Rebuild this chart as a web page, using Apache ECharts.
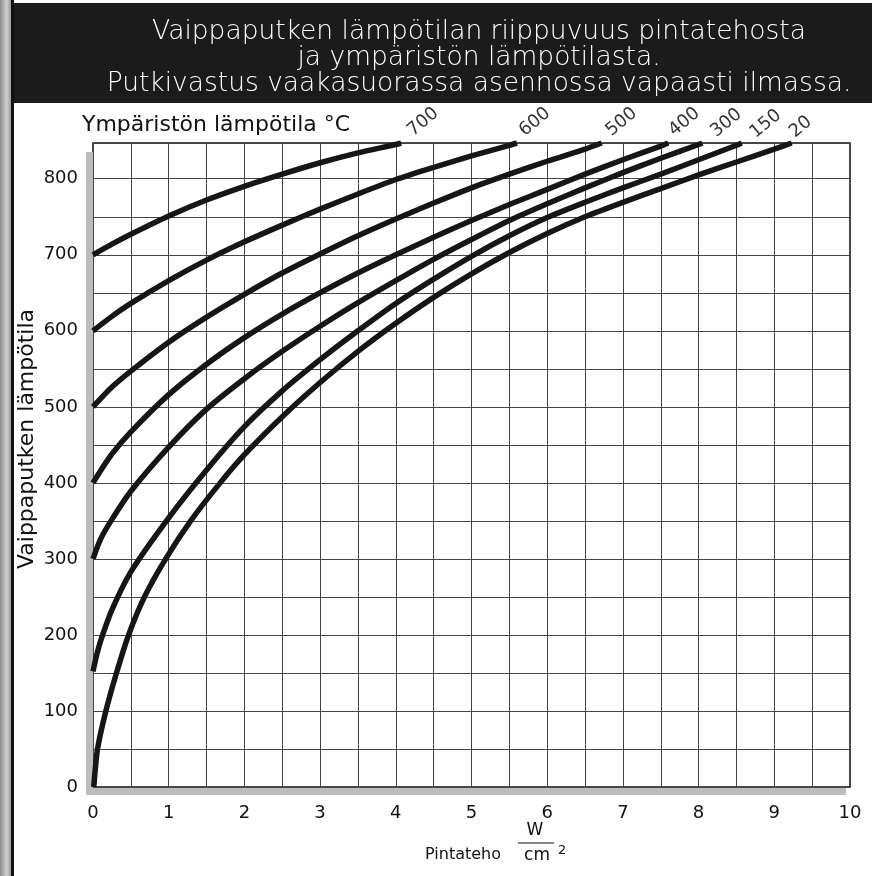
<!DOCTYPE html>
<html>
<head>
<meta charset="utf-8">
<script src="https://cdn.jsdelivr.net/npm/echarts@6/dist/echarts.min.js"></script>
<style>
  html, body { margin: 0; padding: 0; background: #fff; }
  #chart { width: 872px; height: 876px; }
</style>
</head>
<body>
<div id="chart"></div>
<script>
// ympäristön lämpötila (curve names)
var ambient = ['700', '600', '500', '400', '300', '150', '20'];

// x = pintateho W/cm2, y = vaippaputken lämpötila
var q700 = [0, 0.25, 0.5, 1, 1.5, 2, 2.5, 3, 3.5, 4, 4.07];
var t700 = [700, 714, 727, 751, 772, 790, 806, 821, 834, 845, 847];

var q600 = [0, 0.25, 0.5, 1, 1.5, 2, 2.5, 3, 3.5, 4, 4.5, 5, 5.5, 5.6];
var t600 = [600, 619, 636, 666, 693, 717, 739, 760, 780, 799, 815, 830, 844, 847];

var q500 = [0, 0.25, 0.5, 1, 1.5, 2, 2.5, 3, 3.5, 4, 4.5, 5, 5.5, 6, 6.5, 6.72];
var t500 = [500, 526, 547, 585, 618, 648, 676, 701, 725, 747, 768, 788, 806, 823, 839, 847];

var q400 = [0, 0.1, 0.25, 0.5, 1, 1.5, 2, 2.5, 3, 3.5, 4, 4.5, 5, 5.5, 6, 6.5, 7, 7.5, 7.6];
var t400 = [400, 416, 438, 467, 516, 556, 591, 622, 650, 676, 700, 723, 745, 766, 786, 806, 825, 843, 847];

var q300 = [0, 0.1, 0.25, 0.5, 1, 1.5, 2, 2.5, 3, 3.5, 4, 4.5, 5, 5.5, 6, 6.5, 7, 7.5, 8, 8.05];
var t300 = [300, 326, 352, 389, 447, 497, 537, 573, 606, 637, 666, 694, 720, 745, 767, 788, 808, 827, 845, 847];

var q150 = [0, 0.05, 0.1, 0.25, 0.5, 1, 1.5, 2, 2.5, 3, 3.5, 4, 4.5, 5, 5.5, 6, 6.5, 7, 7.5, 8, 8.5, 8.57];
var t150 = [152, 174, 192, 233, 283, 354, 417, 474, 521, 562, 600, 636, 668, 698, 725, 749, 769, 788, 806, 825, 844, 847];

var q20 = [0.01, 0.06, 0.17, 0.31, 0.47, 0.68, 0.96, 1.29, 1.68, 2, 2.5, 3, 3.5, 4, 4.5, 5, 5.5, 6, 6.5, 7, 7.5, 8, 8.5, 9, 9.23];
var t20 = [0, 50, 100, 150, 200, 250, 300, 350, 400, 437, 487, 532, 573, 610, 644, 675, 703, 728, 750, 769, 787, 805, 822, 839, 847];

var xTicks = [0, 1, 2, 3, 4, 5, 6, 7, 8, 9, 10];
var yTicks = [0, 100, 200, 300, 400, 500, 600, 700, 800];

var curvesQ = [q700, q600, q500, q400, q300, q150, q20];
var curvesT = [t700, t600, t500, t400, t300, t150, t20];

// screen offset of each rotated curve label from the curve's end
var labelOffsets = [[22, -21], [18, -21], [20, -21], [16, -21], [24, -20], [24, -19], [9, -16]];
var labelAngle = 40;

var font = 'DejaVu Sans';
var chart = echarts.init(document.getElementById('chart'), null, {renderer: 'canvas'});

var series = [];
for (var i = 0; i < ambient.length; i++) {
    var qs = curvesQ[i], ts = curvesT[i];
    series.push({
        name: ambient[i],
        type: 'line',
        data: qs.map(function (q, k) { return [q, ts[k]]; }),
        showSymbol: false,
        symbol: 'none',
        smooth: 0.25,
        lineStyle: {color: '#161616', width: 5.5, cap: 'butt', join: 'round'},
        z: 3
    });
}

// label offset is applied in the rotated frame, so turn it back
var a = labelAngle * Math.PI / 180;
function unrotate(d) {
    return [d[0] * Math.cos(a) - d[1] * Math.sin(a), d[0] * Math.sin(a) + d[1] * Math.cos(a)];
}

series.push({
    type: 'scatter',
    symbolSize: 1,
    itemStyle: {color: 'rgba(0,0,0,0)'},
    clip: false,
    z: 4,
    data: ambient.map(function (name, i) {
        var qs = curvesQ[i], ts = curvesT[i];
        return {
            value: [qs[qs.length - 1], ts[ts.length - 1]],
            label: {
                show: true,
                formatter: name,
                position: 'inside',
                rotate: labelAngle,
                offset: unrotate(labelOffsets[i]),
                fontSize: 18,
                fontFamily: font,
                color: '#000'
            }
        };
    })
});

var option = {
    animation: false,
    backgroundColor: '#fff',
    title: {
        text: 'Vaippaputken lämpötilan riippuvuus pintatehosta\nja ympäristön lämpötilasta.\nPutkivastus vaakasuorassa asennossa vapaasti ilmassa.',
        left: 474,
        top: 14,
        textAlign: 'center',
        z: 10,
        textStyle: {
            color: '#fff',
            fontSize: 26.5,
            fontWeight: 200,
            fontFamily: font,
            lineHeight: 26
        }
    },
    grid: {
        left: 93,
        right: 22,
        top: 143,
        bottom: 89,
        show: true,
        borderColor: '#111',
        borderWidth: 1.5,
        backgroundColor: 'transparent'
    },
    xAxis: {
        type: 'value',
        min: 0,
        max: 10,
        interval: 0.5,
        axisLine: {show: false},
        axisTick: {show: false},
        splitLine: {show: true, lineStyle: {color: '#444', width: 1}},
        axisLabel: {
            interval: 0,
            margin: 17,
            fontSize: 18,
            fontFamily: font,
            color: '#111',
            formatter: function (v) { return xTicks.indexOf(v) >= 0 ? String(v) : ''; }
        }
    },
    yAxis: {
        type: 'value',
        min: 0,
        max: 847,
        interval: 50,
        axisLine: {show: false},
        axisTick: {show: false},
        splitLine: {show: true, lineStyle: {color: '#444', width: 1}},
        axisLabel: {
            interval: 0,
            margin: 15,
            fontSize: 18,
            fontFamily: font,
            color: '#111',
            formatter: function (v) { return yTicks.indexOf(v) >= 0 ? String(v) : ''; }
        }
    },
    graphic: [
        // black title band
        {type: 'rect', z: 0, shape: {x: 0, y: 3, width: 872, height: 100}, style: {fill: '#1b1b1b'}},
        // left page edge
        {type: 'rect', z: 1, shape: {x: 0, y: 0, width: 11, height: 876},
            style: {fill: new echarts.graphic.LinearGradient(0, 0, 1, 0, [
                {offset: 0, color: '#8a8a8a'}, {offset: 0.6, color: '#d0d0d0'}, {offset: 1, color: '#9a9a9a'}])}},
        {type: 'rect', z: 1, shape: {x: 11, y: 0, width: 3, height: 876}, style: {fill: '#111'}},
        // shaded edges of the plot
        {type: 'rect', z: 1, shape: {x: 86, y: 152, width: 7, height: 643}, style: {fill: '#bcbcbc'}},
        {type: 'rect', z: 1, shape: {x: 86, y: 788, width: 760, height: 7}, style: {fill: '#bcbcbc'}},
        // curve legend title
        {type: 'text', z: 5, x: 82, y: 125,
            style: {text: 'Ympäristön lämpötila °C', fontSize: 22, fontFamily: font, fill: '#111', verticalAlign: 'middle'}},
        // y axis name
        {type: 'text', z: 5, x: 27, y: 439, rotation: Math.PI / 2,
            style: {text: 'Vaippaputken lämpötila', fontSize: 22, fontFamily: font, fill: '#111', align: 'center', verticalAlign: 'middle'}},
        // x axis name with fraction
        {type: 'text', z: 5, x: 425, y: 855,
            style: {text: 'Pintateho', fontSize: 16, fontFamily: font, fill: '#111', verticalAlign: 'middle'}},
        {type: 'text', z: 5, x: 535, y: 831,
            style: {text: 'W', fontSize: 17, fontFamily: font, fill: '#111', align: 'center', verticalAlign: 'middle'}},
        {type: 'line', z: 5, shape: {x1: 518, y1: 843, x2: 554, y2: 843}, style: {stroke: '#111', lineWidth: 1}},
        {type: 'text', z: 5, x: 537, y: 856,
            style: {text: 'cm', fontSize: 17, fontFamily: font, fill: '#111', align: 'center', verticalAlign: 'middle'}},
        {type: 'text', z: 5, x: 558, y: 851,
            style: {text: '2', fontSize: 13, fontFamily: font, fill: '#111', verticalAlign: 'middle'}}
    ],
    series: series
};

chart.setOption(option);
</script>
</body>
</html>
